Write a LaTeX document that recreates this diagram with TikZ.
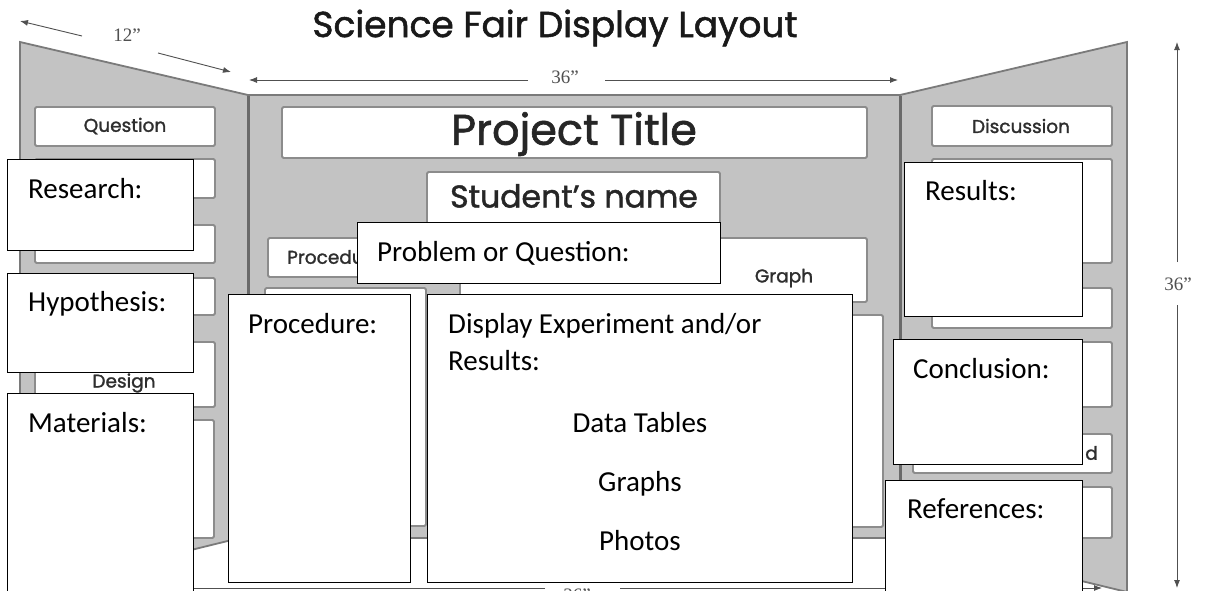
\documentclass[tikz,border=0pt]{standalone}
\usepackage{fontspec}
\setmainfont{Carlito}
\newfontfamily\gothic[FakeBold=1.4]{Poppins}
\newfontfamily\dimfont{Liberation Serif}
\usetikzlibrary{arrows.meta}
\definecolor{panelgray}{HTML}{C3C3C3}
\definecolor{edgegray}{HTML}{7A7A7A}
\definecolor{divgray}{HTML}{6A6A6A}
\definecolor{boxedge}{HTML}{8C8C8C}
\definecolor{boardink}{HTML}{2E2E2E}
\definecolor{dimgray}{HTML}{505050}
\tikzset{
  panel/.style={fill=panelgray, draw=edgegray, line width=1.8pt, line join=miter},
  divider/.style={draw=divgray, line width=3pt},
  boardbox/.style={fill=white, draw=boxedge, line width=1.9pt, rounded corners=1.5pt},
  boardtext/.style={font=\gothic\fontsize{18.5}{21}\selectfont, text=boardink, inner sep=0},
  overlay/.style={draw=black, line width=1.3pt, fill=white, inner sep=0, anchor=north west},
  otext/.style={font=\fontsize{29}{35}\selectfont, inner sep=0, anchor=base west},
  dimline/.style={draw=dimgray, line width=0.9pt, -{Latex[length=8pt,width=6pt]}},
  dimlabel/.style={font=\dimfont\fontsize{19}{21}\selectfont, text=dimgray, inner sep=0}
}
\begin{document}
\begin{tikzpicture}[x=1pt,y=-1pt]
\useasboundingbox (0,0) rectangle (1210,590);
\fill[white] (0,0) rectangle (1210,590);

% ---- panels
\path[panel] (20,42) -- (248,95) -- (248,536) -- (20,592) -- cycle;
\path[panel] (1127,42) -- (900,95) -- (900,537) -- (1127,592) -- cycle;
\path[panel] (248,95) rectangle (900,538);
\coordinate (divLa) at (248,96);  \coordinate (divLb) at (248,536);
\coordinate (divRa) at (900,96);  \coordinate (divRb) at (900,537);
\draw[divider] (divLa) -- (divLb);
\draw[divider] (divRa) -- (divRb);

% ---- board boxes, left wing
\path[boardbox] (35,107) rectangle (215,146);
\path[boardbox] (35,159) rectangle (215,198);
\path[boardbox] (35,225) rectangle (215,263);
\path[boardbox] (35,278) rectangle (215,315);
\path[boardbox] (35,342) rectangle (215,407);
\path[boardbox] (35,420) rectangle (214,538);
\node[boardtext] (bquestion) at (125,126) {Question};
\node[boardtext] (bdesign) at (124,383) {Design};

% ---- board boxes, centre
\path[boardbox] (282,107) rectangle (867,158);
\path[boardbox] (427,172) rectangle (720,232);
\path[boardbox] (268,238) rectangle (445,277);
\path[boardbox] (460,238) rectangle (867,302);
\path[boardbox] (265,288) rectangle (426,526);
\path[boardbox] (437,315) rectangle (883,527);
\node[boardtext, font=\gothic\fontsize{43}{46}\selectfont, text=black!85] (btitle) at (574,134) {Project Title};
\node[boardtext, font=\gothic\fontsize{31.5}{34}\selectfont, text=black!85] (bname) at (574,196) {Student’s name};
\node[boardtext, anchor=west] (bproced) at (287,257) {Procedure};
\node[boardtext] (bgraph) at (784,278) {Graph};
\node[boardtext] (bdata) at (550,276) {Data Table};

% ---- board boxes, right wing
\path[boardbox] (932,106) rectangle (1112,146);
\path[boardbox] (932,159) rectangle (1112,263);
\path[boardbox] (932,288) rectangle (1112,328);
\path[boardbox] (932,342) rectangle (1112,407);
\path[boardbox] (913,434) rectangle (1112,473);
\path[boardbox] (913,487) rectangle (1112,538);
\node[boardtext] (bdiscussion) at (1021,126) {Discussion};
\node[boardtext, anchor=east] (bd) at (1098,453) {d};

% ---- dimension lines
\coordinate (twA) at (20,21);  \coordinate (twB) at (82,36);
\coordinate (twC) at (158,53); \coordinate (twD) at (231,72);
\node[dimlabel] (twelve) at (127,35) {12”};
\draw[dimline] (twB) -- (twA);
\draw[dimline] (twC) -- (twD);

\coordinate (tpA) at (249,80);  \coordinate (tpB) at (528,80);
\coordinate (tpC) at (605,80);  \coordinate (tpD) at (898,80);
\node[dimlabel] (topdim) at (565,77) {36”};
\draw[dimline] (tpB) -- (tpA);
\draw[dimline] (tpC) -- (tpD);

\coordinate (rtA) at (1177,42);  \coordinate (rtB) at (1177,262);
\coordinate (rtC) at (1177,305); \coordinate (rtD) at (1177,588);
\node[dimlabel] (rightdim) at (1178,284) {36”};
\draw[dimline] (rtB) -- (rtA);
\draw[dimline] (rtC) -- (rtD);

\coordinate (btA) at (30,588);  \coordinate (btB) at (545,588);
\coordinate (btC) at (620,588); \coordinate (btD) at (1102,588);
\node[dimlabel] (bottomdim) at (577,595) {36”};
\draw[dimline] (btB) -- (btA);
\draw[dimline] (btC) -- (btD);

% ---- heading
\node[inner sep=0, font=\gothic\fontsize{36}{40}\selectfont, text=black!90] (heading) at (555,28) {Science Fair Display Layout};

% ---- overlay boxes
\node[overlay, minimum width=186, minimum height=91] (research) at (7,159) {};
\node[otext] (researcht) at (28,198) {Research:};
\node[overlay, minimum width=186, minimum height=99] (hypothesis) at (7,273) {};
\node[otext] (hypothesist) at (28,311) {Hypothesis:};
\node[overlay, minimum width=186, minimum height=210] (materials) at (7,393) {};
\node[otext] (materialst) at (28,432) {Materials:};

\node[overlay, minimum width=363, minimum height=61] (problem) at (357,222) {};
\node[otext] (problemt) at (377,261) {Problem or Question:};

\node[overlay, minimum width=182, minimum height=288] (procedure) at (228,294) {};
\node[otext] (proceduret) at (248,333) {Procedure:};

\node[overlay, minimum width=425, minimum height=288] (display) at (427,294) {};
\node[otext] (displayt1) at (448,333) {Display Experiment and/or};
\node[otext] (displayt2) at (448,370) {Results:};
\node[otext, anchor=base] (displayt3) at (640,432) {Data Tables};
\node[otext, anchor=base] (displayt4) at (640,491) {Graphs};
\node[otext, anchor=base] (displayt5) at (640,550) {Photos};

\node[overlay, minimum width=178, minimum height=154] (results) at (904,162) {};
\node[otext] (resultst) at (925,200) {Results:};
\node[overlay, minimum width=189, minimum height=125] (conclusion) at (893,339) {};
\node[otext] (conclusiont) at (913,378) {Conclusion:};
\node[overlay, minimum width=197, minimum height=130] (references) at (885,480) {};
\node[otext] (referencest) at (907,518) {References:};
\end{tikzpicture}
\end{document}
